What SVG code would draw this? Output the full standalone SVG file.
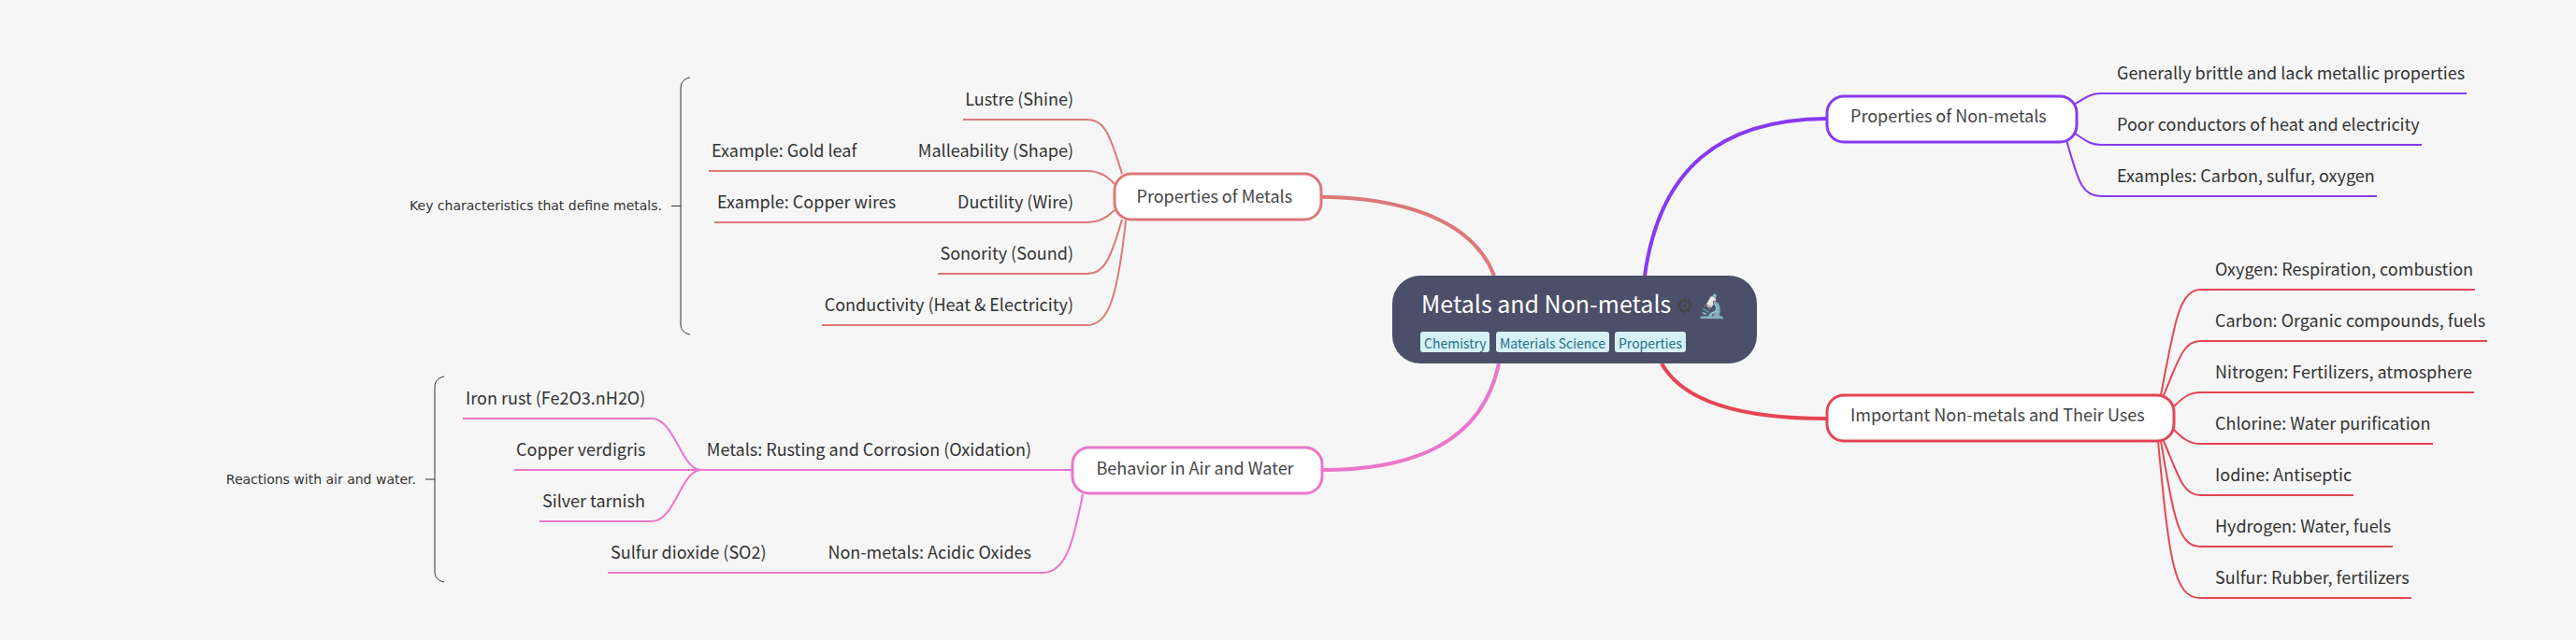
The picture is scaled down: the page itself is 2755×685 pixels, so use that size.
<svg xmlns="http://www.w3.org/2000/svg" width="2755" height="685" viewBox="0 0 2755 685">
<style>
text{font-family:"Noto Sans CJK SC","Noto Sans",sans-serif;fill:#333;font-size:18px}
.e{text-anchor:end}
.c{fill:none;stroke-width:2}
.m{stroke-width:4;fill:none}
.n{fill:#fff;stroke-width:3}
.nt{fill:#444446}
.s{font-size:14px;font-family:"DejaVu Sans",sans-serif;fill:#333}
.b{fill:none;stroke:#333;stroke-width:1}
.tag{fill:#d6f0f8}
.tt{fill:#276f86;font-size:14px}
.rt{font-size:25px;fill:#fff}
</style>
<rect width="2755" height="685" fill="#f6f6f6"/>
<g id="connectors">
<g stroke="#dd7878">
<path class="m" d="M1414 210.7 C1500 212 1575 235 1598 295"/>
<path class="c" d="M1200 186 C1186 140 1180 128 1163 128 H1030"/>
<path class="c" d="M1192 197 C1185 189 1175 183 1163 183 H758"/>
<path class="c" d="M1192 225 C1185 232 1175 238 1163 238 H764"/>
<path class="c" d="M1200 235 C1187 280 1180 293 1163 293 H1003"/>
<path class="c" d="M1204 236 C1195 320 1185 348 1163 348 H879"/>
</g>
<g stroke="#ea76cb">
<path class="m" d="M1414 503 C1510 503 1585 475 1603 389"/>
<path class="c" d="M1148 503 H748"/>
<path class="c" d="M1158 529 C1148 580 1140 613 1115 613 H650"/>
<path class="c" d="M750 503 C728 503 722 448 697 448 H495"/>
<path class="c" d="M750 503 H550"/>
<path class="c" d="M750 503 C728 503 722 558 697 558 H577"/>
</g>
<g stroke="#8839ef">
<path class="m" d="M1759 295 C1775 180 1840 128 1953 127"/>
<path class="c" d="M2218 112 C2230 105 2235 100 2247 100 H2638"/>
<path class="c" d="M2218 142 C2230 150 2235 155 2247 155 H2590"/>
<path class="c" d="M2210 150 C2222 190 2225 210 2247 210 H2542"/>
</g>
<g stroke="#e64553">
<path class="m" d="M1777 389 C1800 430 1860 448 1953 448"/>
<path class="c" d="M2311 423 C2325 350 2330 310 2353 310 H2647"/>
<path class="c" d="M2314 423 C2330 385 2335 365 2353 365 H2660"/>
<path class="c" d="M2325 435 C2335 425 2342 420 2353 420 H2646"/>
<path class="c" d="M2325 460 C2335 470 2342 475 2353 475 H2602"/>
<path class="c" d="M2314 472 C2330 510 2335 530 2353 530 H2517"/>
<path class="c" d="M2311 472 C2325 555 2330 585 2353 585 H2559"/>
<path class="c" d="M2308 472 C2320 600 2325 640 2353 640 H2579"/>
</g>
</g>
<g id="summary-metals">
<path class="b" d="M738 83 C732 84 728 88 728 94 V347 C728 353 732 357 738 358 M728 220.5 H718"/>
<text class="s e" x="708" y="225">Key characteristics that define metals.</text>
</g>
<g id="summary-behavior">
<path class="b" d="M475 403 C469 404 465 408 465 414 V612 C465 618 469 622 475 623 M465 513 H455"/>
<text class="s e" x="445" y="518">Reactions with air and water.</text>
</g>
<g id="root">
<rect x="1489" y="295" width="390" height="94" rx="30" fill="#4c4f69"/>
<text class="rt" x="1520" y="335">Metals and Non-metals</text>
<text x="1792" y="335" style="font-size:22px;fill:#444446">⚙</text>
<text x="1815" y="336" style="font-size:25px">🔬</text>
<rect class="tag" x="1519" y="355" width="74" height="22" rx="3"/><text class="tt" x="1523" y="372.5">Chemistry</text>
<rect class="tag" x="1600" y="355" width="121" height="22" rx="3"/><text class="tt" x="1604" y="372.5">Materials Science</text>
<rect class="tag" x="1727" y="355" width="76" height="22" rx="3"/><text class="tt" x="1731" y="372.5">Properties</text>
</g>
<g id="n-metals"><rect class="n" x="1192" y="186" width="221" height="49" rx="18" stroke="#dd7878"/><text class="nt" x="1215.5" y="217">Properties of Metals</text></g>
<g id="n-behavior"><rect class="n" x="1147" y="479" width="267" height="49" rx="18" stroke="#ea76cb"/><text class="nt" x="1172.5" y="508">Behavior in Air and Water</text></g>
<g id="n-nonmetals"><rect class="n" x="1954" y="103" width="267" height="49" rx="18" stroke="#8839ef"/><text class="nt" x="1979" y="131">Properties of Non-metals</text></g>
<g id="n-important"><rect class="n" x="1954" y="423" width="371" height="49" rx="18" stroke="#e64553"/><text class="nt" x="1979" y="451">Important Non-metals and Their Uses</text></g>
<g id="leaves">
<text class="e" x="1148" y="113">Lustre (Shine)</text>
<text class="e" x="1148" y="168">Malleability (Shape)</text>
<text x="761" y="168">Example: Gold leaf</text>
<text class="e" x="1148" y="223">Ductility (Wire)</text>
<text x="767" y="223">Example: Copper wires</text>
<text class="e" x="1148" y="278">Sonority (Sound)</text>
<text class="e" x="1148" y="333">Conductivity (Heat &amp; Electricity)</text>
<text x="498" y="433">Iron rust (Fe2O3.nH2O)</text>
<text x="552" y="488">Copper verdigris</text>
<text x="580" y="543">Silver tarnish</text>
<text x="653" y="598">Sulfur dioxide (SO2)</text>
<text class="e" x="1103" y="488">Metals: Rusting and Corrosion (Oxidation)</text>
<text class="e" x="1103" y="598">Non-metals: Acidic Oxides</text>
<text x="2264" y="85">Generally brittle and lack metallic properties</text>
<text x="2264" y="140">Poor conductors of heat and electricity</text>
<text x="2264" y="195">Examples: Carbon, sulfur, oxygen</text>
<text x="2369" y="295">Oxygen: Respiration, combustion</text>
<text x="2369" y="350">Carbon: Organic compounds, fuels</text>
<text x="2369" y="405">Nitrogen: Fertilizers, atmosphere</text>
<text x="2369" y="460">Chlorine: Water purification</text>
<text x="2369" y="515">Iodine: Antiseptic</text>
<text x="2369" y="570">Hydrogen: Water, fuels</text>
<text x="2369" y="625">Sulfur: Rubber, fertilizers</text>
</g>
</svg>
